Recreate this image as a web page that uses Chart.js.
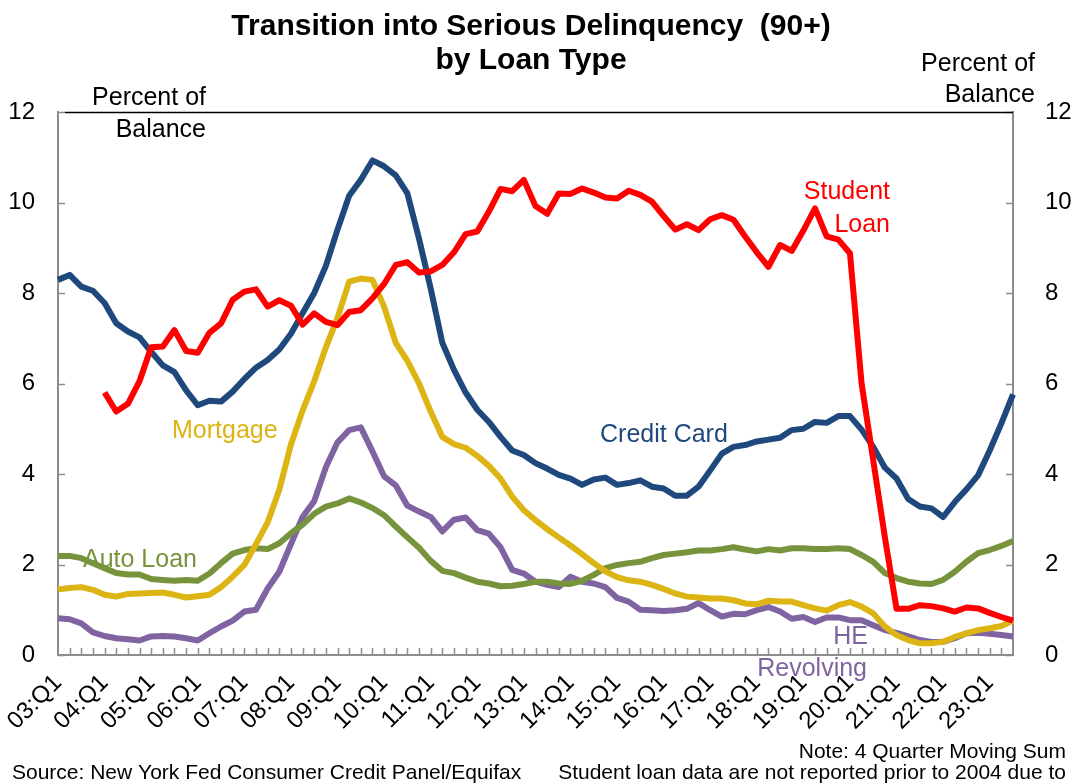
<!DOCTYPE html>
<html>
<head>
<meta charset="utf-8">
<script src="https://cdn.jsdelivr.net/npm/chart.js@4.4.0/dist/chart.umd.min.js"></script>
<style>
  body { margin: 0; background: #fff; }
  #wrap { width: 1080px; height: 784px; }
</style>
</head>
<body>
<div id="wrap"><canvas id="delinqChart" width="1080" height="784"></canvas></div>
<script>
// quarters 03:Q1 .. 23:Q3
const quarters = [];
for (let yr = 3; yr <= 23; yr++) {
  for (let q = 1; q <= 4; q++) {
    if (yr === 23 && q > 3) break;
    quarters.push(String(yr).padStart(2, "0") + ":Q" + q);
  }
}

const yTicks = [0, 2, 4, 6, 8, 10, 12];

const creditCard = [8.29, 8.40, 8.14, 8.05, 7.78, 7.33, 7.15, 7.02, 6.70, 6.40,
  6.25, 5.85, 5.52, 5.62, 5.60, 5.82, 6.10, 6.35, 6.52, 6.75,
  7.10, 7.55, 8.00, 8.60, 9.40, 10.15, 10.50, 10.93, 10.80, 10.60,
  10.20, 9.20, 8.10, 6.90, 6.30, 5.80, 5.42, 5.15, 4.82, 4.52,
  4.42, 4.24, 4.12, 3.98, 3.90, 3.76, 3.88, 3.92, 3.76, 3.80,
  3.86, 3.72, 3.68, 3.52, 3.52, 3.72, 4.08, 4.45, 4.60, 4.64,
  4.72, 4.76, 4.80, 4.97, 5.00, 5.15, 5.13, 5.28, 5.28, 4.98,
  4.60, 4.14, 3.90, 3.45, 3.28, 3.24, 3.05, 3.38, 3.66, 3.97,
  4.52, 5.12, 5.76];

// student loan not reported before 2004
const studentLoan = [null, null, null, null, 5.80, 5.38, 5.55, 6.05, 6.80, 6.82,
  7.18, 6.72, 6.68, 7.12, 7.33, 7.85, 8.03, 8.08, 7.70, 7.84,
  7.72, 7.30, 7.55, 7.36, 7.29, 7.58, 7.62, 7.88, 8.20, 8.62,
  8.68, 8.45, 8.48, 8.62, 8.90, 9.30, 9.36, 9.80, 10.30, 10.25,
  10.50, 9.92, 9.75, 10.20, 10.19, 10.31, 10.22, 10.11, 10.09, 10.26,
  10.17, 10.02, 9.70, 9.40, 9.52, 9.39, 9.63, 9.72, 9.62, 9.25,
  8.90, 8.58, 9.06, 8.93, 9.38, 9.87, 9.25, 9.18, 8.88, 6.00,
  4.30, 2.60, 1.02, 1.02, 1.10, 1.08, 1.03, 0.96, 1.05, 1.03,
  0.93, 0.84, 0.76];

const mortgage = [1.45, 1.48, 1.50, 1.44, 1.33, 1.29, 1.35, 1.36, 1.37, 1.38,
  1.33, 1.27, 1.30, 1.33, 1.50, 1.73, 1.99, 2.45, 2.93, 3.65,
  4.65, 5.40, 6.05, 6.80, 7.45, 8.25, 8.32, 8.29, 7.70, 6.90,
  6.50, 6.00, 5.38, 4.82, 4.66, 4.58, 4.40, 4.18, 3.90, 3.50,
  3.20, 2.98, 2.78, 2.60, 2.42, 2.23, 2.03, 1.85, 1.72, 1.65,
  1.62, 1.55, 1.46, 1.36, 1.29, 1.27, 1.25, 1.25, 1.21, 1.14,
  1.12, 1.20, 1.18, 1.18, 1.10, 1.03, 0.98, 1.10, 1.17, 1.07,
  0.92, 0.63, 0.44, 0.33, 0.26, 0.26, 0.29, 0.40, 0.48, 0.55,
  0.59, 0.64, 0.76];

const autoLoan = [2.19, 2.19, 2.14, 2.03, 1.92, 1.81, 1.78, 1.78, 1.68, 1.66,
  1.64, 1.66, 1.64, 1.80, 2.03, 2.24, 2.32, 2.36, 2.34, 2.47,
  2.69, 2.88, 3.12, 3.28, 3.35, 3.46, 3.37, 3.25, 3.09, 2.84,
  2.60, 2.37, 2.08, 1.86, 1.81, 1.71, 1.62, 1.58, 1.52, 1.53,
  1.57, 1.62, 1.62, 1.58, 1.57, 1.64, 1.77, 1.92, 1.99, 2.03,
  2.06, 2.14, 2.21, 2.24, 2.27, 2.31, 2.31, 2.34, 2.38, 2.33,
  2.29, 2.34, 2.31, 2.36, 2.36, 2.34, 2.34, 2.36, 2.34, 2.21,
  2.06, 1.81, 1.70, 1.62, 1.58, 1.57, 1.66, 1.84, 2.06, 2.25,
  2.32, 2.41, 2.52];

const heRevolving = [0.81, 0.79, 0.70, 0.50, 0.42, 0.37, 0.35, 0.32, 0.41, 0.42,
  0.41, 0.37, 0.32, 0.48, 0.63, 0.76, 0.96, 1.00, 1.47, 1.84,
  2.45, 3.05, 3.40, 4.15, 4.70, 4.97, 5.03, 4.50, 3.95, 3.75,
  3.30, 3.17, 3.05, 2.73, 2.99, 3.04, 2.76, 2.68, 2.38, 1.88,
  1.80, 1.62, 1.55, 1.50, 1.73, 1.62, 1.58, 1.50, 1.26, 1.18,
  1.00, 0.99, 0.97, 0.99, 1.02, 1.15, 0.99, 0.85, 0.91, 0.90,
  0.99, 1.06, 0.96, 0.80, 0.84, 0.73, 0.83, 0.83, 0.77, 0.77,
  0.66, 0.55, 0.49, 0.41, 0.33, 0.29, 0.29, 0.37, 0.48, 0.49,
  0.47, 0.44, 0.41];

const FONT = "'Liberation Sans', Arial, sans-serif";
const AXIS_GREY = "#8c8c8c";

// text labels placed on the chart like the original
const notes = [
  { text: "Percent of", x: 206, y: 98, align: "right", color: "#000", size: 25 },
  { text: "Balance", x: 206, y: 130, align: "right", color: "#000", size: 25 },
  { text: "Percent of", x: 1035, y: 64, align: "right", color: "#000", size: 25 },
  { text: "Balance", x: 1035, y: 95, align: "right", color: "#000", size: 25 },
  { text: "Student", x: 890, y: 192, align: "right", color: "#ff0000", size: 25 },
  { text: "Loan", x: 890, y: 225, align: "right", color: "#ff0000", size: 25 },
  { text: "Credit Card", x: 600, y: 435, align: "left", color: "#1f497d", size: 25 },
  { text: "Mortgage", x: 172, y: 431, align: "left", color: "#dcb414", size: 25 },
  { text: "Auto Loan", x: 83, y: 560, align: "left", color: "#77933c", size: 25 },
  { text: "HE", x: 868, y: 637, align: "right", color: "#8064a2", size: 25 },
  { text: "Revolving", x: 867, y: 669, align: "right", color: "#8064a2", size: 25 },
  { text: "Transition into Serious Delinquency  (90+)", x: 531, y: 27, align: "center", color: "#000", size: 30, bold: true },
  { text: "by Loan Type", x: 531, y: 61, align: "center", color: "#000", size: 30, bold: true },
  { text: "Source: New York Fed Consumer Credit Panel/Equifax", x: 12, y: 773, align: "left", color: "#000", size: 21 },
  { text: "Note: 4 Quarter Moving Sum", x: 1066, y: 752, align: "right", color: "#000", size: 21 },
  { text: "Student loan data are not reported prior to 2004 due to", x: 1066, y: 773, align: "right", color: "#000", size: 21 },
];

// inward tick marks, top border and text labels
const decorPlugin = {
  id: "decor",
  afterDraw(chart) {
    const ctx = chart.ctx;
    const area = chart.chartArea;
    const xs = chart.scales.x;
    const yl = chart.scales.y;
    ctx.save();
    ctx.strokeStyle = AXIS_GREY;
    ctx.lineWidth = 1.5;
    ctx.beginPath();
    for (let i = 1; i < xs.ticks.length - 1; i++) {
      const px = Math.round(xs.getPixelForTick(i)) + 0.5;
      ctx.moveTo(px, area.bottom);
      ctx.lineTo(px, area.bottom - 7);
    }
    yl.ticks.forEach((t, i) => {
      const py = Math.round(yl.getPixelForTick(i)) + 0.5;
      ctx.moveTo(area.left, py);
      ctx.lineTo(area.left + 7, py);
      ctx.moveTo(area.right, py);
      ctx.lineTo(area.right - 7, py);
    });
    ctx.stroke();

    ctx.strokeStyle = "#000";
    ctx.lineWidth = 1.5;
    ctx.beginPath();
    ctx.moveTo(area.left + 7, area.top + 0.5);
    ctx.lineTo(area.right, area.top + 0.5);
    ctx.stroke();

    ctx.textBaseline = "middle";
    notes.forEach((n) => {
      ctx.font = (n.bold ? "bold " : "") + n.size + "px " + FONT;
      ctx.fillStyle = n.color;
      ctx.textAlign = n.align;
      ctx.fillText(n.text, n.x, n.y);
    });
    ctx.restore();
  },
};

function lineSet(label, data, color, order) {
  return {
    label: label,
    data: data,
    borderColor: color,
    backgroundColor: color,
    borderWidth: 6,
    pointRadius: 0,
    tension: 0,
    fill: false,
    yAxisID: "y",
    order: order,
    borderJoinStyle: "round",
  };
}

const ctx = document.getElementById("delinqChart").getContext("2d");
const delinqChart = new Chart(ctx, {
  type: "line",
  data: {
    labels: quarters,
    datasets: [
      lineSet("Student Loan", studentLoan, "#ff0000", 0),
      lineSet("Mortgage", mortgage, "#dcb414", 1),
      lineSet("Credit Card", creditCard, "#1f497d", 2),
      lineSet("Auto Loan", autoLoan, "#77933c", 3),
      lineSet("HE Revolving", heRevolving, "#8064a2", 4),
    ],
  },
  options: {
    responsive: false,
    animation: false,
    layout: { padding: { top: 112, left: 0, right: 0, bottom: 0 } },
    plugins: {
      legend: { display: false },
      title: { display: false },
      tooltip: { enabled: false },
    },
    scales: {
      x: {
        type: "category",
        offset: false,
        grid: { display: false },
        border: { display: true, color: AXIS_GREY, width: 2 },
        ticks: {
          autoSkip: false,
          minRotation: 45,
          maxRotation: 45,
          padding: 6,
          color: "#000",
          font: { family: FONT, size: 24 },
          callback: function (value, index) {
            return index % 4 === 0 ? this.getLabelForValue(value) : "";
          },
        },
        afterFit(scale) { scale.height = 129; },
      },
      y: {
        position: "left",
        min: 0,
        max: 12,
        grid: { display: false },
        border: { display: true, color: AXIS_GREY, width: 2 },
        ticks: {
          stepSize: 2,
          padding: 15,
          color: "#000",
          font: { family: FONT, size: 24 },
        },
        afterBuildTicks(scale) { scale.ticks = yTicks.map((v) => ({ value: v })); },
        afterFit(scale) { scale.width = 58; },
      },
      y2: {
        position: "right",
        min: 0,
        max: 12,
        grid: { display: false },
        border: { display: true, color: AXIS_GREY, width: 2 },
        ticks: {
          stepSize: 2,
          padding: 24,
          color: "#000",
          font: { family: FONT, size: 24 },
        },
        afterBuildTicks(scale) { scale.ticks = yTicks.map((v) => ({ value: v })); },
        afterFit(scale) { scale.width = 67; },
      },
    },
  },
  plugins: [decorPlugin],
});
</script>
</body>
</html>
